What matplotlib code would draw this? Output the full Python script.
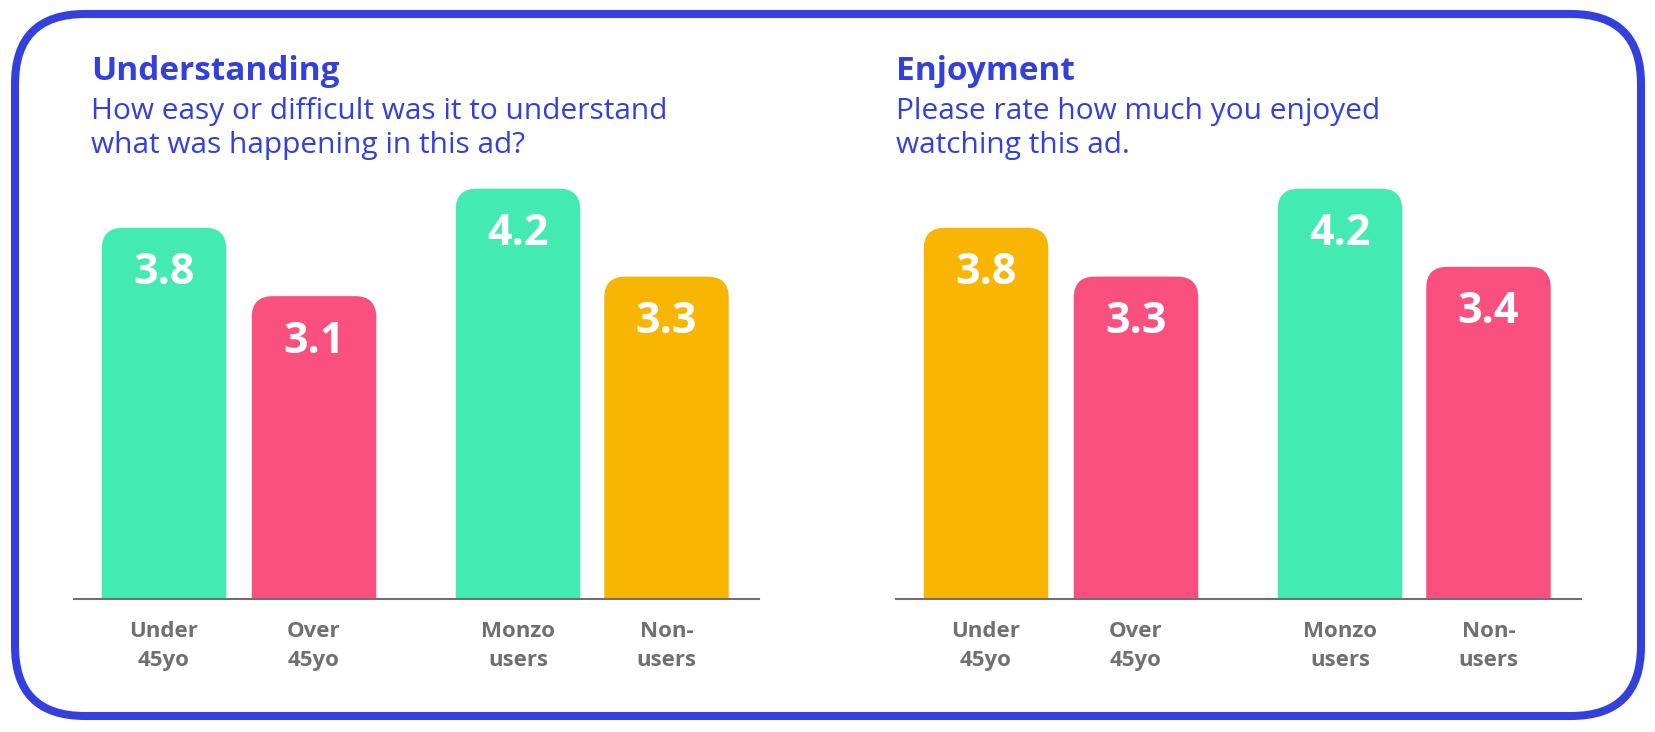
import matplotlib.pyplot as plt
from matplotlib.patches import FancyBboxPatch

# data
categories = ['Under\n45yo', 'Over\n45yo', 'Monzo\nusers', 'Non-\nusers']
understanding = [3.8, 3.1, 4.2, 3.3]
enjoyment = [3.8, 3.3, 4.2, 3.4]
titles = ['Understanding', 'Enjoyment']
subtitles = [['How easy or difficult was it to understand', 'what was happening in this ad?'],
             ['Please rate how much you enjoyed', 'watching this ad.']]

GREEN = '#43EBB3'
PINK = '#F9507F'
YELLOW = '#F8B603'
BLUE = '#3340DD'
GREY = '#707070'
colors_left = [GREEN, PINK, GREEN, YELLOW]
colors_right = [YELLOW, PINK, GREEN, PINK]

plt.rcParams['font.family'] = ['Open Sans', 'DejaVu Sans']

W, H = 1656, 732
fig = plt.figure(figsize=(W / 100, H / 100), dpi=100)

# background axes in pixel coords (origin top-left)
bg = fig.add_axes([0, 0, 1, 1])
bg.set_xlim(0, W)
bg.set_ylim(H, 0)
bg.axis('off')
border = FancyBboxPatch((15, 14), 1626, 702, boxstyle='round,pad=0,rounding_size=70',
                        fc='white', ec=BLUE, lw=5.8)
bg.add_patch(border)

positions = [0, 1, 2.36, 3.35]
width = 0.83
xlim = (-0.6, 3.97)
ymax = 5.0
px_per_unit_y = 97.7
px_per_unit_x = 150.0
axis_y = 599  # pixel from top

panels = [(74, understanding, colors_left), (896, enjoyment, colors_right)]
title_x = [91, 896]

for i, (left_px, values, cols) in enumerate(panels):
    width_px = (xlim[1] - xlim[0]) * px_per_unit_x
    height_px = ymax * px_per_unit_y
    ax = fig.add_axes([left_px / W, (H - axis_y) / H, width_px / W, height_px / H])
    ax.set_xlim(*xlim)
    ax.set_ylim(0, ymax)
    ax.axis('off')
    aspect = px_per_unit_x / px_per_unit_y
    for k, (x, v, c) in enumerate(zip(positions, values, cols)):
        bar = FancyBboxPatch((x - width / 2, -1), width, v + 1,
                             boxstyle='round,pad=0,rounding_size=0.14',
                             mutation_aspect=aspect, fc=c, ec='none')
        bar.set_clip_on(True)
        ax.add_patch(bar)
        ax.text(x, v - 0.46, f'{v:.1f}', ha='center', va='center', color='white',
                fontsize=31, fontweight='bold')
        ax.text(x, -0.23, categories[k], ha='center', va='top',
                color=GREY, fontsize=16, fontweight='bold', linespacing=1.5,
                clip_on=False)
    ax.axhline(0, color=GREY, lw=1.5, clip_on=False)

    bg.text(title_x[i], 72, titles[i], ha='left', va='center', color=BLUE,
            fontsize=24, fontweight='bold')
    for j, line in enumerate(subtitles[i]):
        bg.text(title_x[i], 111 + 35 * j, line, ha='left', va='center', color=BLUE,
                fontsize=21.5)

fig.savefig('out.png', dpi=100, facecolor='white')
